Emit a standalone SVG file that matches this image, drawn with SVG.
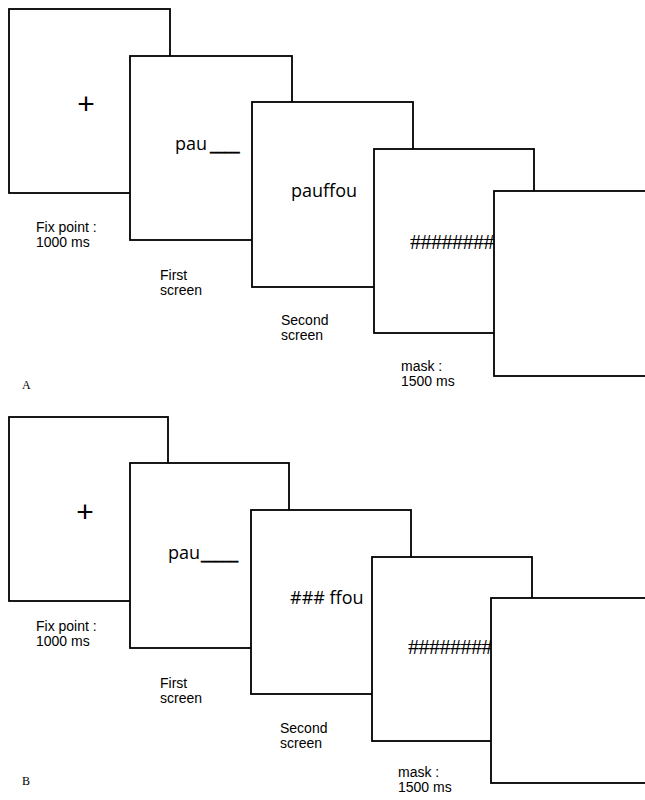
<svg xmlns="http://www.w3.org/2000/svg" width="645" height="800" viewBox="0 0 645 800">
<style>
.box{fill:#fff;stroke:#000;stroke-width:1.8}
.lbl{font-family:"Liberation Sans",Arial,sans-serif;font-size:14px;fill:#000}
.word{font-family:"Open Sans","Noto Sans",sans-serif;font-size:18px;fill:#000}
.us{font-weight:700;stroke:#000;stroke-width:0.5}
.plus{font-family:"Liberation Sans",Arial,sans-serif;font-size:30px;fill:#000;text-anchor:middle}
.hash{font-family:"Liberation Serif","Times New Roman",serif;font-size:22px;letter-spacing:-0.5px;fill:#000}
.panel{font-family:"Liberation Serif","Times New Roman",serif;font-size:12px;fill:#000}
</style>
<rect width="645" height="800" fill="#fff"/>
<g id="connectors"/>
<!-- Panel A -->
<g id="panelA">
  <g id="A-fix">
    <rect class="box" x="9" y="9" width="161" height="184"/>
    <text class="plus" x="86" y="114">+</text>
  </g>
  <g id="A-first">
    <rect class="box" x="130" y="56" width="162" height="184"/>
    <text class="word" x="175" y="150">pau<tspan class="us" dx="3">____</tspan></text>
  </g>
  <g id="A-second">
    <rect class="box" x="252" y="102" width="161" height="185"/>
    <text class="word" x="291" y="196.5">pauffou</text>
  </g>
  <g id="A-mask">
    <rect class="box" x="374" y="149" width="160" height="184"/>
    <text class="hash" x="410" y="249">##########</text>
  </g>
  <g id="A-blank">
    <rect class="box" x="494" y="191" width="170" height="185"/>
  </g>
  <g id="A-labels">
    <text class="lbl" x="36" y="232">Fix point :</text>
    <text class="lbl" x="36" y="247">1000 ms</text>
    <text class="lbl" x="160" y="280">First</text>
    <text class="lbl" x="160" y="295">screen</text>
    <text class="lbl" x="281" y="325">Second</text>
    <text class="lbl" x="281" y="340">screen</text>
    <text class="lbl" x="401" y="371">mask :</text>
    <text class="lbl" x="401" y="386">1500 ms</text>
    <text class="panel" x="22" y="389">A</text>
  </g>
</g>
<!-- Panel B -->
<g id="panelB">
  <g id="B-fix">
    <rect class="box" x="9" y="417" width="159" height="184"/>
    <text class="plus" x="85" y="522">+</text>
  </g>
  <g id="B-first">
    <rect class="box" x="130" y="463" width="159" height="185"/>
    <text class="word" x="168" y="559">pau<tspan class="us" dx="1">_____</tspan></text>
  </g>
  <g id="B-second">
    <rect class="box" x="251" y="510" width="160" height="184"/>
    <text class="word" x="290" y="604">### ffou</text>
  </g>
  <g id="B-mask">
    <rect class="box" x="372" y="557" width="160" height="184"/>
    <text class="hash" x="408" y="654">##########</text>
  </g>
  <g id="B-blank">
    <rect class="box" x="491" y="598" width="170" height="185"/>
  </g>
  <g id="B-labels">
    <text class="lbl" x="36" y="631">Fix point :</text>
    <text class="lbl" x="36" y="646">1000 ms</text>
    <text class="lbl" x="160" y="688">First</text>
    <text class="lbl" x="160" y="703">screen</text>
    <text class="lbl" x="280" y="733">Second</text>
    <text class="lbl" x="280" y="748">screen</text>
    <text class="lbl" x="398" y="777">mask :</text>
    <text class="lbl" x="398" y="792">1500 ms</text>
    <text class="panel" x="22" y="785">B</text>
  </g>
</g>
</svg>
